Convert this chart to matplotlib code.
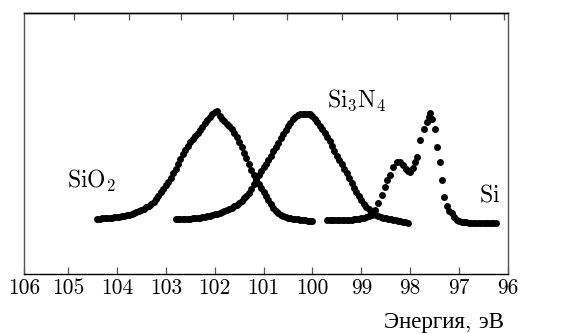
import numpy as np
import matplotlib
matplotlib.use("Agg")
import matplotlib.pyplot as plt

plt.rcParams['font.family'] = ['cmr10', 'Liberation Serif']
plt.rcParams['mathtext.fontset'] = 'cm'
plt.rcParams['axes.formatter.use_mathtext'] = True

# %% Datos (energía [eV], intensidad [u. arb.])
E_SiO2 = [104.40, 104.35, 104.30, 104.25, 104.20, 104.15, 104.10, 104.05, 104.00, 103.95,
          103.90, 103.85, 103.80, 103.75, 103.70, 103.65, 103.60, 103.55, 103.50, 103.45,
          103.40, 103.35, 103.30, 103.25, 103.20, 103.15, 103.10, 103.05, 103.00, 102.95,
          102.90, 102.85, 102.80, 102.75, 102.70, 102.65, 102.60, 102.55, 102.50, 102.45,
          102.40, 102.35, 102.30, 102.25, 102.20, 102.15, 102.10, 102.05, 102.00, 101.95,
          101.90, 101.85, 101.80, 101.75, 101.70, 101.65, 101.60, 101.55, 101.50, 101.45,
          101.40, 101.35, 101.30, 101.25, 101.20, 101.15, 101.10, 101.05, 101.00, 100.95,
          100.90, 100.85, 100.80, 100.75, 100.70, 100.65, 100.60, 100.55, 100.50, 100.45,
          100.40, 100.35, 100.30, 100.25, 100.20, 100.15, 100.10, 100.05, 100.00]
I_SiO2 = [55.5, 55.5, 56, 56, 56, 56.5, 56.5, 57, 57, 57.5,
          58, 58.5, 59, 59.5, 60.5, 61, 62, 63, 64, 65.5,
          67, 68.5, 70.5, 72.5, 75, 78.5, 82, 85.5, 89, 92.5,
          96.5, 101, 105, 110, 115, 120, 124.5, 128.5, 132, 135.5,
          138.5, 141, 144, 147.5, 151, 154, 157, 160, 162.5, 163.5,
          158.5, 155.5, 153, 150.5, 148, 145, 141.5, 137, 132.5, 127,
          121.5, 116, 110, 104.5, 99.5, 95, 90.5, 86, 82, 78,
          74, 70, 66, 63.5, 61, 59.5, 58, 57, 56.5, 56,
          55.5, 55, 55, 54.5, 54, 54, 53.5, 53.5, 53.5]

E_Si3N4 = [102.80, 102.75, 102.70, 102.65, 102.60, 102.55, 102.50, 102.45, 102.40, 102.35,
           102.30, 102.25, 102.20, 102.15, 102.10, 102.05, 102.00, 101.95, 101.90, 101.85,
           101.80, 101.75, 101.70, 101.65, 101.60, 101.55, 101.50, 101.45, 101.40, 101.35,
           101.30, 101.25, 101.20, 101.15, 101.10, 101.05, 101.00, 100.95, 100.90, 100.85,
           100.80, 100.75, 100.70, 100.65, 100.60, 100.55, 100.50, 100.45, 100.40, 100.35,
           100.30, 100.25, 100.20, 100.15, 100.10, 100.05, 100.00, 99.95, 99.90, 99.85,
           99.80, 99.75, 99.70, 99.65, 99.60, 99.55, 99.50, 99.45, 99.40, 99.35,
           99.30, 99.25, 99.20, 99.15, 99.10, 99.05, 99.00, 98.95, 98.90, 98.85,
           98.80, 98.75, 98.70, 98.65, 98.60, 98.55, 98.50, 98.45, 98.40, 98.35,
           98.30, 98.25, 98.20, 98.15, 98.10, 98.05]
I_Si3N4 = [55, 55, 55, 55, 55.5, 55.5, 55.5, 56, 56, 56.5,
           56.5, 57, 57.5, 58, 58.5, 59, 60, 60.5, 61.5, 62,
           63, 64, 65, 66.5, 68, 69.5, 71.5, 73.5, 76, 78.5,
           81.5, 85.5, 90, 94.5, 99, 103, 107, 110.5, 114, 118.5,
           123, 127, 131.5, 136, 140, 144, 148, 151.5, 155, 157.5,
           159, 160, 160.5, 160.5, 160.5, 160, 158.5, 155.5, 152, 148.5,
           145, 141.5, 137.5, 133, 128, 123, 118.5, 114, 110, 105.5,
           101, 96, 91, 86.5, 82, 78, 74, 70.5, 67.5, 65,
           62.5, 61, 59.5, 58.5, 57.5, 56.5, 56, 55.5, 55, 54.5,
           54, 53.5, 53, 52.5, 52, 51.5]

E_Si = [99.70, 99.65, 99.60, 99.55, 99.50, 99.45, 99.40, 99.35, 99.30, 99.25,
        99.20, 99.15, 99.10, 99.05, 99.00, 98.95, 98.90, 98.85, 98.79, 98.72,
        98.65, 98.58, 98.52, 98.47, 98.41, 98.35, 98.28, 98.21, 98.14, 98.09,
        98.04, 98.00, 97.95, 97.90, 97.86, 97.79, 97.72, 97.66, 97.62, 97.60,
        97.56, 97.49, 97.46, 97.39, 97.34, 97.31, 97.25, 97.20, 97.15, 97.10,
        97.05, 97.00, 96.95, 96.90, 96.85, 96.80, 96.75, 96.70, 96.65, 96.60,
        96.55, 96.50, 96.45, 96.40, 96.35, 96.30, 96.25]
I_Si = [54, 54, 54, 54, 54, 54, 54, 54, 54, 54.5,
        54.5, 55, 55, 55.5, 56, 56.5, 57.5, 58, 59, 64,
        70.7, 79, 87.3, 94, 99, 107, 112, 112.5, 109, 105.5,
        103, 102.5, 106, 112, 117, 134, 145, 152, 157, 160.7,
        155, 144.7, 127.3, 112.3, 94, 77.3, 68, 63, 60.7, 57,
        54, 53, 52.5, 52, 52, 51.5, 51.5, 51.5, 51.5, 51.5,
        51.5, 51.5, 51.5, 51.5, 51.5, 51.5, 51.5]

etiquetas_x = ['106', '105', '104', '103', '102', '101', '100', '99', '98', '97', '96']
ticks_x = [105.9, 105, 104, 103, 102, 101, 100, 99, 98, 97, 96]
ticks_arriba = [104.88, 103.75, 102.69, 101.63, 100.52, 99.40, 98.27, 97.19, 96.08]

# %% Gráfico
fig = plt.figure(figsize=(5.74, 3.33), dpi=100)
ax = fig.add_axes([24/574, 1 - 274/333, 484/574, 261/333])

for E, I in [(E_SiO2, I_SiO2), (E_Si3N4, I_Si3N4), (E_Si, I_Si)]:
    ax.plot(E, I, 'o', color='black', ms=5.0, mew=0)

ax.set_xlim(105.9, 96)
ax.set_ylim(0, 261)
ax.set_yticks([])
ax.set_xticks(ticks_x)
ax.set_xticklabels(etiquetas_x, fontsize=15.5)
ax.tick_params(axis='x', direction='in', length=5, width=0.9, color='#555555', pad=3)

ax2 = ax.secondary_xaxis('top')
ax2.set_xticks(ticks_arriba)
ax2.set_xticklabels([])
ax2.tick_params(direction='in', length=5, width=0.9, color='#555555')
ax2.spines['top'].set_linewidth(1.0)

for lado in ['left', 'right']:
    ax.spines[lado].set_color('#555555')
for lado in ax.spines:
    ax.spines[lado].set_linewidth(1.0)

ax.text(104.53, 93, r'$\mathrm{SiO_2}$', fontsize=17, ha='center', va='center')
ax.text(99.09, 174, r'$\mathrm{Si_3N_4}$', fontsize=17, ha='center', va='center')
ax.text(96.37, 79, r'$\mathrm{Si}$', fontsize=17, ha='center', va='center')

ax.set_xlabel('Энергия, эВ', fontsize=16.5, loc='right')
ax.xaxis.set_label_coords(480/484, -0.15)

plt.savefig('out.png', dpi=100)
